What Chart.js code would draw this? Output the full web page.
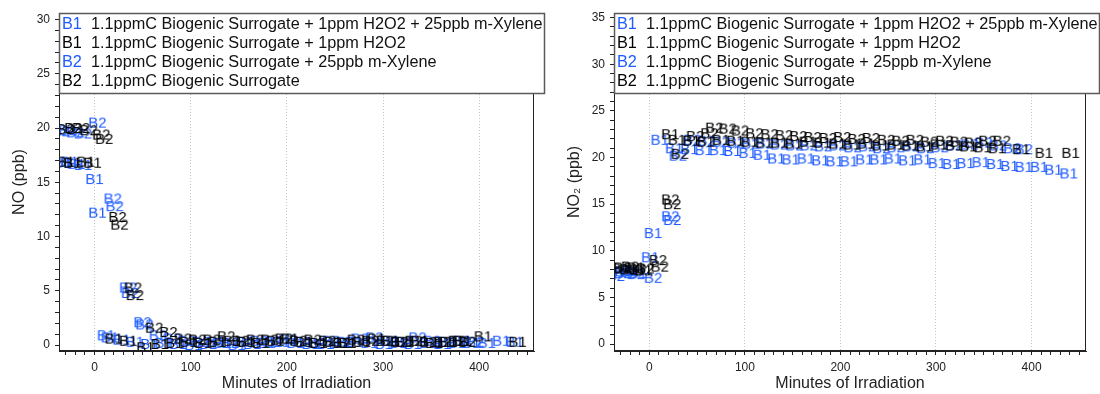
<!DOCTYPE html>
<html>
<head>
<meta charset="utf-8">
<script src="https://cdn.jsdelivr.net/npm/chart.js"></script>
<style>
  html, body { margin: 0; padding: 0; background: #fff; }
  #wrap { position: relative; width: 1100px; height: 394px; overflow: hidden; }
  canvas { position: absolute; top: 0; }
  #no-chart { left: 0; }
  #no2-chart { left: 550px; }
</style>
</head>
<body>
<div id="wrap">
  <canvas id="no-chart" width="550" height="394"></canvas>
  <canvas id="no2-chart" width="550" height="394"></canvas>
</div>
<script>
// legend text, tag and colour for the four runs
const runLabels = [
  "1.1ppmC Biogenic Surrogate + 1ppm H2O2 + 25ppb m-Xylene",
  "1.1ppmC Biogenic Surrogate + 1ppm H2O2",
  "1.1ppmC Biogenic Surrogate + 25ppb m-Xylene",
  "1.1ppmC Biogenic Surrogate"
];
const runTags = ["B1", "B1", "B2", "B2"];
const BLUE = "#1f5cff";
const runColors = [BLUE, "#000", BLUE, "#000"];

// ---- NO (ppb) ----
const noB1xT = [-33,-26,-19,-12, 0,3, 12,16, 28,42,57,72,87, 103,118,133,148,164, 179,194,209,225,240, 255,270,286,301,316, 331,347,362,377,392, 408,423,437];
const noB1xV = [16.8,16.9,16.7,16.6, 15.3,12.2, 0.9,0.7, 0.5,0.3,0.1,0.2,0.1, 0.0,0.1,0.2,0.0,0.1, 0.2,0.3,0.2,0.1,0.1, 0.2,0.3,0.2,0.1,0.2, 0.1,0.2,0.1,0.2,0.2, 0.2,0.4,0.3];

const noB1T = [-30,-23,-9,-2, 20,35,53, 68,83,98,113,128,143,158, 173,188,203,218,233,248,263,278,293,308,323,338,353,368,383, 404,440];
const noB1V = [16.9,16.8,16.9,16.8, 0.6,0.4,-0.2, 0.1,0.2,0.3,0.2,0.3,0.4,0.3, 0.2,0.4,0.6,0.3,0.2,0.3,0.2,0.3,0.6,0.4,0.3,0.4,0.2,0.3,0.4, 0.8,0.3];

const noB2xT = [-35,-28,-20,-12, 3, 19,21, 35,37, 50,52, 66,81,96,111,126, 141,156,171,186,201, 216,231,246,261,276, 291,306,321,336,351, 366,381,396];
const noB2xV = [19.7,19.8,19.6,19.5, 20.5, 13.5,12.8, 5.3,4.8, 2.1,1.9, 0.9,0.6,0.4,0.3,0.3, 0.2,0.3,0.4,0.3,0.5, 0.3,0.2,0.4,0.3,0.6, 0.7,0.4,0.3,0.7,0.4, 0.3,0.4,0.3];

const noB2T = [-30,-22,-14,-6, 7,10, 24,26, 40,42, 62,77, 92,107,122,137,152, 167,182,197,212,227, 242,257,272,287,302, 317,332,347,362,377, 388];
const noB2V = [19.9,20.0,20.0,19.8, 19.4,19.0, 11.8,11.1, 5.3,4.6, 1.6,1.2, 0.6,0.5,0.5,0.8,0.4, 0.5,0.5,0.6,0.4,0.5, 0.4,0.2,0.5,0.4,0.4, 0.3,0.4,0.3,0.3,0.4, 0.3];

// ---- NO2 (ppb) ----
const no2B1xT = [-34,-27,-19,-12, 1,4, 11,26,42,57,72, 87,103,118,133,148, 164,179,194,209,225, 240,255,270,286,301, 316,331,347,362,377, 392,408,423,439];
const no2B1xV = [7.7,7.8,7.9,7.6, 9.3,11.9, 21.9,21.0,20.9,20.8,20.8, 20.7,20.5,20.3,19.9,19.8, 19.9,19.7,19.6,19.6,19.8, 19.8,19.9,19.7,19.8,19.4, 19.3,19.4,19.5,19.3,19.1, 19.0,19.0,18.7,18.3];

const no2B1T = [-30,-22,-14,-6, 22,29, 44,59,75,90,105, 120,136,151,166,181, 197,212,227,242,258, 273,288,303,319,334, 349,364, 389,413,441];
const no2B1V = [8.1,8.0,8.2,7.9, 22.5,21.9, 21.8,21.7,21.9,21.8,21.7, 21.6,21.6,21.5,21.7,21.6, 21.5,21.4,21.5,21.3,21.4, 21.3,21.2,21.4,21.3,21.2, 21.1,21.0, 20.9,20.5,20.5];

const no2B2xT = [-35,-28,-21,-14, 4, 22,24, 30, 45,60,75,91,106, 121,136,152,167,182, 197,213,228,243,258, 274,289,304,319,335, 350,365,380, 392];
const no2B2xV = [7.3,7.6,7.8,7.5, 7.1, 13.7,13.3, 20.2, 21.9,21.8,21.7,21.6,21.5, 21.5,21.4,21.3,21.3,21.2, 21.3,21.1,21.2,21.0,21.1, 21.2,21.0,21.1,21.3,21.4, 21.6,21.3,21.0, 20.9];

const no2B2T = [-28,-20,-12,-4, 9,11, 22,24, 32, 48,63,68,82,95, 110,126,141,156,171, 187,202,217,232,248, 263,278,293,309,324, 339,354,369];
const no2B2V = [8.2,8.3,8.0,8.1, 9.0,8.3, 15.5,15.0, 20.4, 22.3,22.6,23.2,23.1,22.9, 22.6,22.5,22.4,22.3,22.2, 22.1,22.2,22.0,22.1,21.9, 21.8,21.9,21.7,21.8,21.7, 21.6,21.8,21.8];

const FONT = "'Liberation Sans', Arial, sans-serif";
const MARK_FONT = "15px " + FONT;

// text marker ("B1"/"B2") used as the point style
function tagImage(text, color) {
  const c = document.createElement("canvas");
  let ctx = c.getContext("2d");
  ctx.font = MARK_FONT;
  const w = Math.ceil(ctx.measureText(text).width) + 2;
  c.width = w;
  c.height = 18;
  ctx = c.getContext("2d");
  ctx.font = MARK_FONT;
  ctx.fillStyle = color;
  ctx.textAlign = "center";
  ctx.textBaseline = "middle";
  ctx.fillText(text, w / 2, 9.5);
  return c;
}

function toPoints(xs, ys) {
  return xs.map((x, i) => ({ x: x, y: ys[i] }));
}

function makeDatasets(runs) {
  return runs.map((r, i) => ({
    label: runLabels[i],
    data: toPoints(r[0], r[1]),
    pointStyle: tagImage(runTags[i], runColors[i]),
    pointRadius: 8,
    showLine: false,
    order: runColors[i] === BLUE ? 1 : 0
  }));
}

// plot frame + boxed legend drawn over the top of the plot
const frameLegend = {
  id: "frameLegend",
  afterDraw(chart, args, opts) {
    const { ctx, chartArea: a } = chart;
    ctx.save();
    ctx.strokeStyle = "#222";
    ctx.lineWidth = 1;
    ctx.strokeRect(a.left + 0.5, a.top + 0.5, a.right - a.left - 1, a.bottom - a.top - 1);

    const bx = a.left + 0.5, by = a.top + 0.5;
    const bw = a.right - a.left + opts.extra, bh = 80;
    ctx.fillStyle = "#fff";
    ctx.fillRect(bx, by, bw, bh);
    ctx.strokeStyle = "#5a5a5a";
    ctx.lineWidth = 1.5;
    ctx.strokeRect(bx, by, bw, bh);

    ctx.font = "16.25px " + FONT;
    ctx.textBaseline = "middle";
    ctx.textAlign = "left";
    for (let i = 0; i < runLabels.length; i++) {
      const y = a.top + 12 + i * 19;
      ctx.fillStyle = runColors[i];
      ctx.fillText(runTags[i], a.left + 3, y);
      ctx.fillStyle = "#111";
      ctx.fillText(runLabels[i], a.left + 32, y);
    }
    ctx.restore();
  }
};

function makePanel(id, runs, yMin, yMax, yTitle, axisW, padRight, titlePad, extra) {
  return new Chart(document.getElementById(id), {
    type: "scatter",
    data: { datasets: makeDatasets(runs) },
    options: {
      responsive: false,
      animation: false,
      layout: { padding: { left: 0, top: 13, right: padRight, bottom: 0 } },
      plugins: {
        legend: { display: false },
        tooltip: { enabled: false },
        frameLegend: { extra: extra }
      },
      scales: {
        x: {
          type: "linear",
          min: -37,
          max: 457,
          afterFit: (s) => { s.height = 43; },
          border: { color: "#222", width: 1, dash: [1, 2] },
          grid: {
            color: (c) => (c.tick && c.tick.value % 100 === 0 ? "#c4c4c4" : "rgba(0,0,0,0)"),
            tickColor: "#222",
            tickLength: 4,
            lineWidth: 1
          },
          ticks: {
            stepSize: 10,
            includeBounds: false,
            autoSkip: false,
            maxRotation: 0,
            padding: 5,
            color: "#222",
            font: { size: 12, family: FONT },
            callback: (v) => (v % 100 === 0 ? String(v) : "")
          },
          title: {
            display: true,
            text: "Minutes of Irradiation",
            color: "#222",
            font: { size: 16, family: FONT },
            padding: { top: 0, bottom: 1 }
          }
        },
        y: {
          type: "linear",
          min: yMin,
          max: yMax,
          afterFit: (s) => { s.width = axisW; },
          border: { color: "#222", width: 1 },
          grid: { drawOnChartArea: false, tickColor: "#222", tickLength: 4 },
          ticks: {
            stepSize: 1,
            includeBounds: false,
            autoSkip: false,
            padding: 5,
            color: "#222",
            font: { size: 12, family: FONT },
            callback: (v) => (v % 5 === 0 ? String(v) : "")
          },
          title: {
            display: true,
            text: yTitle,
            color: "#222",
            font: { size: 16, family: FONT },
            padding: { top: titlePad, bottom: 0 }
          }
        }
      }
    },
    plugins: [frameLegend]
  });
}

makePanel("no-chart",
  [[noB1xT, noB1xV], [noB1T, noB1V], [noB2xT, noB2xV], [noB2T, noB2V]],
  -0.55, 30.6, "NO (ppb)", 59, 16, 10, 10);

makePanel("no2-chart",
  [[no2B1xT, no2B1xV], [no2B1T, no2B1V], [no2B2xT, no2B2xV], [no2B2T, no2B2V]],
  -0.75, 35.5, "NO\u2082 (ppb)", 64, 14, 15, 13);
</script>
</body>
</html>
